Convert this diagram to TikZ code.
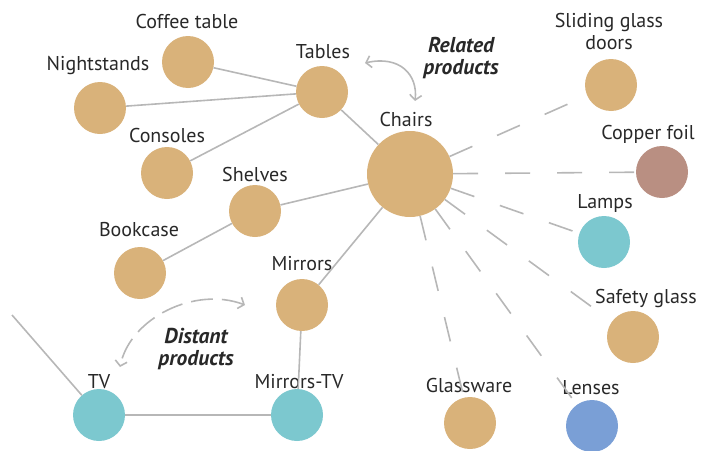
\documentclass[tikz,border=0pt]{standalone}
\usepackage{fontspec}
\setmainfont{PT Sans}
\usetikzlibrary{arrows.meta}
\definecolor{tan}{RGB}{217,178,122}
\definecolor{copper}{RGB}{185,143,130}
\definecolor{teal}{RGB}{124,200,207}
\definecolor{lensblue}{RGB}{122,159,214}
\definecolor{linegray}{RGB}{183,183,183}
\definecolor{ink}{RGB}{40,40,40}
\newcommand{\lbl}{\fontsize{20}{22}\selectfont}
\newcommand{\notesize}{\fontsize{21.5}{22}\selectfont}

\begin{document}
\begin{tikzpicture}[x=1pt,y=-1pt,
    prod/.style={circle,inner sep=0pt,minimum size=52pt,fill=#1},
    prod/.default=tan,
    tag/.style={text=ink,font=\lbl,align=center},
    link/.style={linegray,line width=1.6pt},
    far/.style={linegray,line width=1.6pt,dash pattern=on 25pt off 27pt},
    note/.style={text=ink,font=\notesize\bfseries\itshape,align=center,text depth=0pt}]
  \useasboundingbox (0,0) rectangle (712,450);
  % circles
  \node[prod] (coffee)  at (188, 62) {};
  \node[prod] (night)   at (100,108) {};
  \node[prod] (tables)  at (322, 92) {};
  \node[prod] (consol)  at (167,173) {};
  \node[prod] (shelves) at (255,211) {};
  \node[prod] (bookc)   at (140,273) {};
  \node[prod,minimum size=86pt] (chairs) at (410,174) {};
  \node[prod] (mirrors) at (302,305) {};
  \node[prod=teal] (tv)     at ( 99,415) {};
  \node[prod=teal] (mirtv)  at (297,415) {};
  \node[prod] (sliding) at (611, 85) {};
  \node[prod=copper] (copper) at (662,172) {};
  \node[prod=teal] (lamps)  at (604,242) {};
  \node[prod] (safety)  at (633,337) {};
  \node[prod] (glassw)  at (470,423) {};
  \node[prod=lensblue] (lenses) at (592,426) {};
  % labels
  \node[tag] (coffee-l)  at (187, 21) {Coffee table};
  \node[tag] (night-l)   at ( 98, 66) {Nightstands};
  \node[tag] (tables-l)  at (323, 52) {Tables};
  \node[tag] (consol-l)  at (167,135) {Consoles};
  \node[tag] (shelves-l) at (255,174) {Shelves};
  \node[tag] (bookc-l)   at (139,230) {Bookcase};
  \node[tag] (chairs-l)  at (406,119) {Chairs};
  \node[tag] (mirrors-l) at (302,264) {Mirrors};
  \node[tag] (tv-l)      at ( 99,382) {TV};
  \node[tag] (mirtv-l)   at (299,382) {Mirrors-TV};
  \node[tag] (sliding-l) at (609, 31) {Sliding glass\\doors};
  \node[tag] (copper-l)  at (648,134) {Copper foil};
  \node[tag] (lamps-l)   at (605,203) {Lamps};
  \node[tag] (safety-l)  at (646,298) {Safety glass};
  \node[tag] (glassw-l)  at (469,385) {Glassware};
  \node[tag] (lenses-l)  at (591,388) {Lenses};
  \node[note] (related) at (461, 56) {Related\\products};
  \node[note] (distant) at (196,347) {Distant\\products};
  % solid links
  \coordinate (offleft) at (12,315);
  \draw[link] (coffee) -- (tables);
  \draw[link] (night) -- (tables);
  \draw[link] (consol) -- (tables);
  \draw[link] (tables) -- (chairs);
  \draw[link] (shelves) -- (chairs);
  \draw[link] (bookc) -- (shelves);
  \draw[link] (mirrors) -- (chairs);
  \draw[link] (mirrors) -- (mirtv);
  \draw[link] (tv) -- (mirtv);
  \draw[link] (offleft) -- (tv);
  % dashed links
  \foreach \t in {sliding,copper,lamps,safety,glassw,lenses}
    \draw[far] (chairs) -- (\t);
  % curved arrows
  \coordinate (r1) at (365,63);
  \coordinate (r2) at (415,101);
  \draw[linegray,line width=1.6pt,{Straight Barb[length=5pt,width=12pt]}-{Straight Barb[length=5pt,width=12pt]}]
    (r1) .. controls (400,55) and (418,75) .. (r2);
  \coordinate (d1) at (245,305);
  \coordinate (d2) at (120,367);
  \draw[linegray,line width=1.6pt,dash pattern=on 22pt off 9pt,{Straight Barb[length=5pt,width=12pt]}-{Straight Barb[length=5pt,width=12pt]}]
    (d1) .. controls (195,286) and (130,318) .. (d2);
\end{tikzpicture}
\end{document}
